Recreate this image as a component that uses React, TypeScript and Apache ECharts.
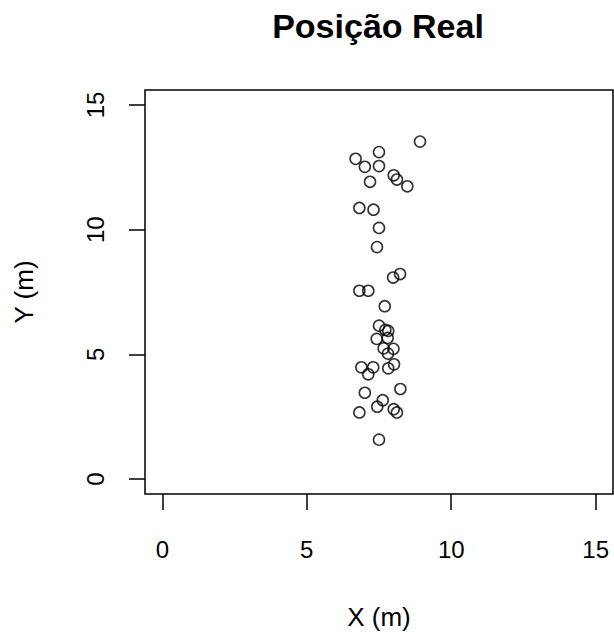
import React, { useEffect, useRef } from "react";
import * as echarts from "echarts";

const titleText = "Posição Real";
const xName = "X (m)";
const yName = "Y (m)";
const tickValues = [0, 5, 10, 15];
const xs = [
  8.92, 7.5, 6.69, 7.01, 7.5, 8.01, 8.12, 8.48, 7.19, 6.82, 7.31, 7.5, 7.43,
  8.23, 7.99, 6.82, 7.13, 7.7, 7.5, 7.72, 7.82, 7.42, 7.8, 7.66, 8.0, 7.81,
  8.02, 7.82, 6.89, 7.3, 7.13, 7.01, 8.24, 7.63, 7.44, 8.01, 8.12, 6.82, 7.5,
];
const ys = [
  13.53, 13.11, 12.84, 12.52, 12.55, 12.18, 12.01, 11.74, 11.92, 10.87, 10.8,
  10.07, 9.3, 8.22, 8.08, 7.55, 7.55, 6.93, 6.15, 5.98, 5.94, 5.62, 5.66,
  5.24, 5.22, 5.03, 4.6, 4.44, 4.48, 4.48, 4.2, 3.46, 3.61, 3.16, 2.9, 2.8,
  2.67, 2.67, 1.58,
];

const FONT = "Liberation Sans, Arial, Helvetica, sans-serif";

export default function App() {
  const ref = useRef<HTMLDivElement>(null);
  useEffect(() => {
    if (!ref.current) return;
    const chart = echarts.init(ref.current, undefined, { renderer: "svg" });
    const data = xs.map((x, i) => [x, ys[i]]);
    const axisCommon = {
      type: "value" as const,
      min: -0.6,
      max: 15.6,
      axisLine: { show: false, onZero: false },
      splitLine: { show: false },
      nameLocation: "middle" as const,
      nameTextStyle: { fontFamily: FONT, fontSize: 26, color: "#000" },
    };
    chart.setOption({
      animation: false,
      backgroundColor: "#fff",
      title: {
        text: titleText,
        left: 373,
        top: 4,
        textAlign: "center",
        textStyle: { fontFamily: FONT, fontSize: 34, fontWeight: "bold", color: "#000" },
      },
      grid: {
        left: 145,
        top: 90,
        width: 468,
        height: 404,
        show: true,
        borderColor: "#000",
        borderWidth: 1.5,
        backgroundColor: "transparent",
      },
      xAxis: {
        ...axisCommon,
        name: xName,
        nameGap: 110,
        axisTick: {
          show: true,
          length: 16,
          customValues: tickValues,
          lineStyle: { color: "#000", width: 1.5 },
        },
        axisLabel: {
          customValues: tickValues,
          margin: 43,
          fontFamily: FONT,
          fontSize: 24,
          color: "#000",
        },
      },
      yAxis: {
        ...axisCommon,
        name: yName,
        nameGap: 108,
        axisTick: {
          show: true,
          length: 16,
          customValues: tickValues,
          lineStyle: { color: "#000", width: 1.5 },
        },
        axisLabel: {
          customValues: tickValues,
          margin: 38,
          rotate: 90,
          fontFamily: FONT,
          fontSize: 24,
          color: "#000",
        },
      },
      series: [
        {
          type: "scatter",
          data,
          symbol: "circle",
          symbolSize: 11,
          itemStyle: { color: "transparent", borderColor: "#000", borderWidth: 1.6 },
        },
      ],
    });
    return () => chart.dispose();
  }, []);
  return (
    <div
      ref={ref}
      style={{ position: "fixed", left: 0, top: 0, width: 614, height: 638 }}
    />
  );
}
